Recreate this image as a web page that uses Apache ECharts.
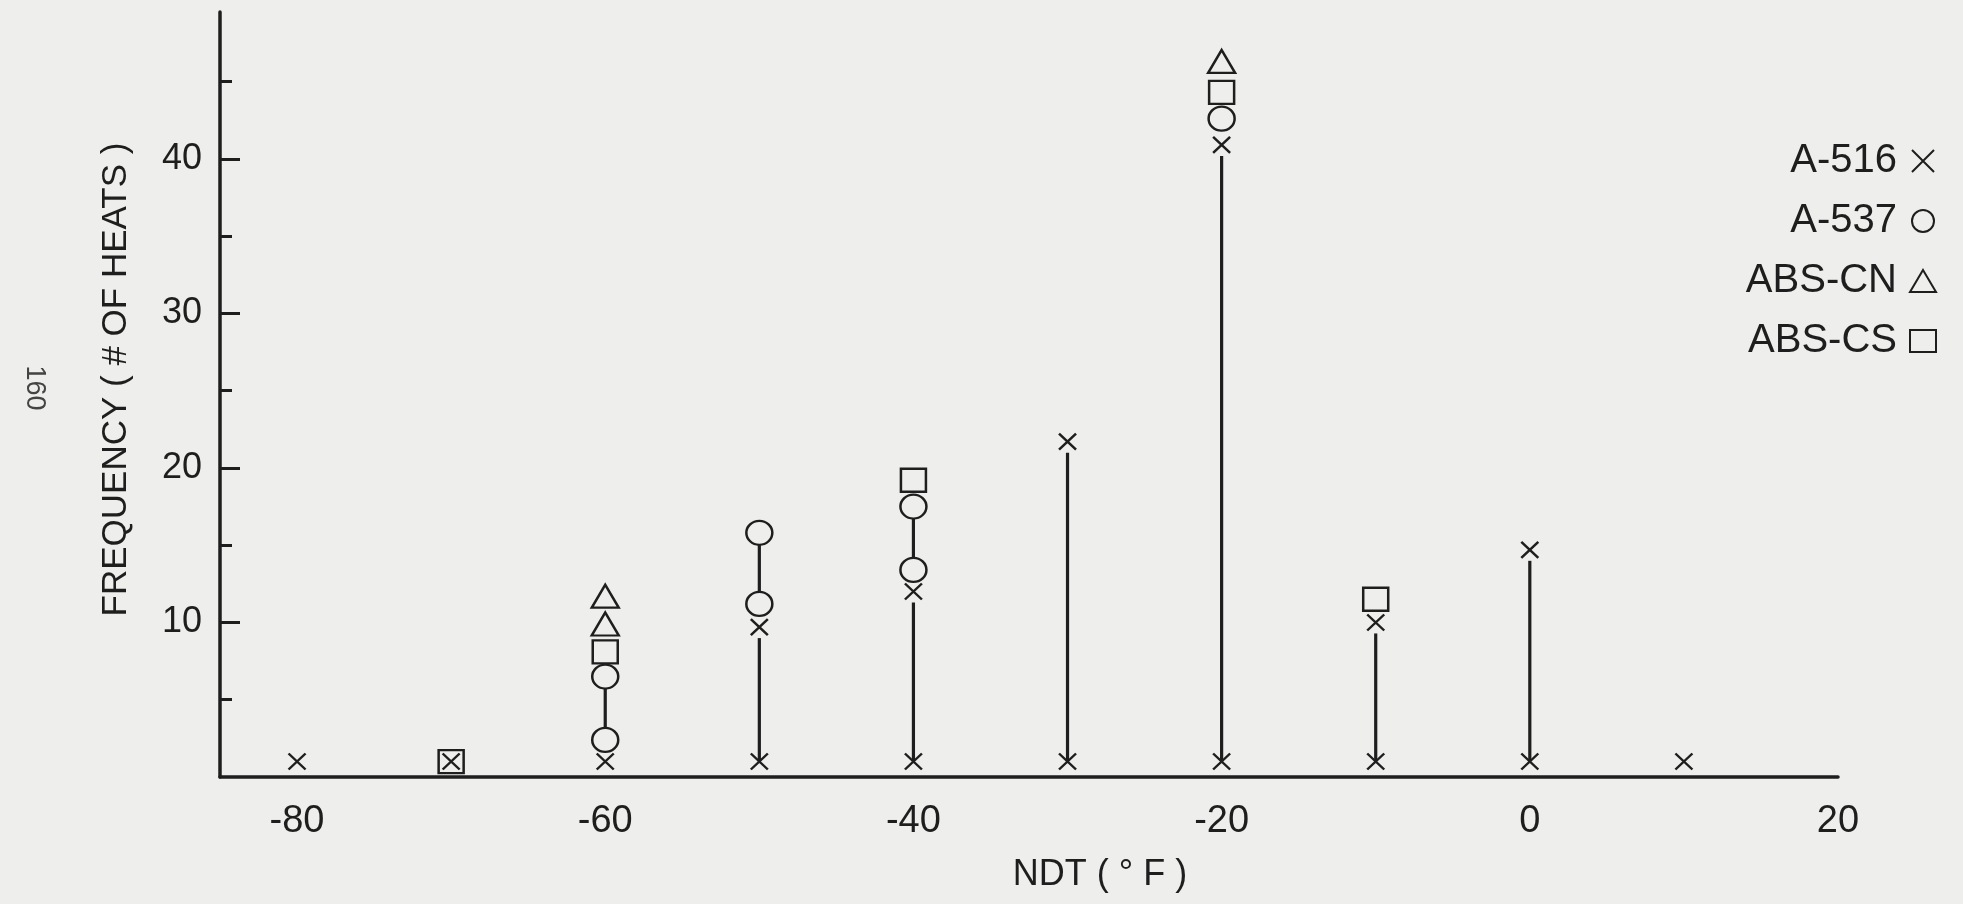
<!DOCTYPE html>
<html>
<head>
<meta charset="utf-8">
<script src="https://cdn.jsdelivr.net/npm/echarts@6/dist/echarts.min.js"></script>
<style>
html,body{margin:0;padding:0;background:#eeeeec;}
#chart{width:1963px;height:904px;}
</style>
</head>
<body>
<div id="chart"></div>
<script>
// ---- data ----
const ndtTickLabels = [-80, -60, -40, -20, 0, 20];
const freqMajorTicks = [10, 20, 30, 40];
const freqMinorTicks = [5, 15, 25, 35, 45];

const seriesNames = ['A-516', 'A-537', 'ABS-CN', 'ABS-CS'];

// [NDT (°F), frequency]
const a516 = [[-80, 1], [-70, 1], [-60, 1], [-50, 1], [-50, 9.7], [-40, 1], [-40, 12],
              [-30, 1], [-30, 21.7], [-20, 1], [-20, 40.9], [-10, 1], [-10, 10],
              [0, 1], [0, 14.7], [10, 1]];
const a537 = [[-60, 2.4], [-60, 6.5], [-50, 11.2], [-50, 15.8], [-40, 13.4], [-40, 17.5], [-20, 42.6]];
const absCN = [[-60, 9.9], [-60, 11.7], [-20, 46.3]];
const absCS = [[-70, 1], [-60, 8.1], [-40, 19.2], [-20, 44.3], [-10, 11.5]];

// vertical range lines [NDT, low, high]
const stems = [[-50, 1, 9.7], [-40, 1, 12], [-30, 1, 21.7], [-20, 1, 40.9], [-10, 1, 10], [0, 1, 14.7],
               [-60, 2.4, 6.5], [-50, 11.2, 15.8], [-40, 13.4, 17.5]];

// ---- styling ----
const ink = '#1e1e1e';
const paper = '#eeeeec';
const sans = '"Liberation Sans", "DejaVu Sans", sans-serif';

const chart = echarts.init(document.getElementById('chart'), null, {renderer: 'canvas'});

function markerSeries(name, data, symbol, size, z) {
  return {
    name: name,
    type: 'scatter',
    data: data,
    symbol: symbol,
    symbolSize: size,
    z: z,
    itemStyle: {color: paper, borderColor: ink, borderWidth: 2.4, opacity: 1},
    emphasis: {disabled: true}
  };
}

const option = {
  backgroundColor: paper,
  animation: false,
  grid: [
    {left: 220, right: 125, top: 12, bottom: 127, containLabel: false},
    {left: 220, right: 125, top: 12, bottom: 127, containLabel: false}
  ],
  xAxis: [
    {
      type: 'value', gridIndex: 0, min: -85, max: 20,
      name: 'NDT ( ° F )', nameLocation: 'middle', nameGap: 80,
      nameTextStyle: {fontFamily: sans, fontSize: 36, color: ink, padding: [0, 0, 0, 142]},
      axisLine: {show: true, onZero: false, lineStyle: {color: ink, width: 3.5}},
      axisTick: {show: false},
      splitLine: {show: false},
      axisLabel: {customValues: ndtTickLabels, fontFamily: sans, fontSize: 38, color: ink, margin: 26}
    },
    {
      type: 'value', gridIndex: 1, min: -85, max: 20, show: false
    }
  ],
  yAxis: [
    {
      type: 'value', gridIndex: 0, min: 0, max: 49.5,
      name: 'FREQUENCY ( # OF HEATS )', nameLocation: 'middle', nameRotate: 90, nameGap: 86,
      nameTextStyle: {fontFamily: sans, fontSize: 35, color: ink, padding: [0, 0, 0, 30]},
      axisLine: {show: true, onZero: false, lineStyle: {color: ink, width: 3.5}},
      axisTick: {show: true, inside: true, length: 20, customValues: freqMajorTicks, lineStyle: {color: ink, width: 3}},
      axisLabel: {customValues: freqMajorTicks, fontFamily: sans, fontSize: 36, color: ink, margin: 18},
      splitLine: {show: false}
    },
    {
      type: 'value', gridIndex: 1, min: 0, max: 49.5, position: 'left',
      axisLine: {show: false, onZero: false},
      axisTick: {show: true, inside: true, length: 12, customValues: freqMinorTicks, lineStyle: {color: ink, width: 3}},
      axisLabel: {show: false},
      splitLine: {show: false}
    }
  ],
  legend: {
    data: seriesNames,
    orient: 'vertical',
    right: 21,
    top: 136,
    align: 'right',
    itemWidth: 26,
    itemHeight: 22,
    itemGap: 20,
    selectedMode: false,
    textStyle: {fontFamily: sans, fontSize: 40, color: ink, padding: [0, 8, 0, 0]}
  },
  graphic: [
    {
      type: 'text', x: 34, y: 388, rotation: -Math.PI / 2,
      style: {text: '160', font: '27px "Liberation Sans"', fill: '#444', align: 'center', verticalAlign: 'middle'}
    }
  ],
  series: [
    {
      name: 'stems',
      type: 'custom',
      xAxisIndex: 0, yAxisIndex: 0,
      z: 2,
      data: stems,
      encode: {x: 0, y: [1, 2]},
      renderItem: function (params, api) {
        const p0 = api.coord([api.value(0), api.value(1)]);
        const p1 = api.coord([api.value(0), api.value(2)]);
        return {
          type: 'line',
          shape: {x1: p0[0], y1: p0[1], x2: p1[0], y2: p1[1] + 11},
          style: {stroke: ink, lineWidth: 3.2}
        };
      }
    },
    markerSeries('A-516', a516, 'path://M0,0L10,10M10,0L0,10', [17, 16], 6),
    markerSeries('A-537', a537, 'circle', [26, 24], 5),
    markerSeries('ABS-CN', absCN, 'triangle', [27, 23], 5),
    markerSeries('ABS-CS', absCS, 'rect', [25, 23], 5)
  ]
};
chart.setOption(option);
</script>
</body>
</html>
